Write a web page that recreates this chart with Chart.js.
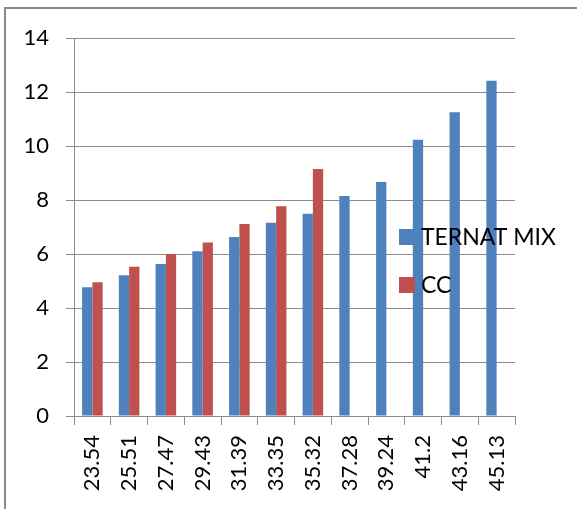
<!DOCTYPE html>
<html>
<head>
<meta charset="utf-8">
<script src="https://cdn.jsdelivr.net/npm/chart.js@4/dist/chart.umd.min.js"></script>
<style>
  html, body { margin: 0; padding: 0; background: #ffffff; }
  #wrap { width: 577px; height: 509px; position: relative; }
</style>
</head>
<body>
<div id="wrap"><canvas id="chart" width="577" height="509"></canvas></div>
<script>
// Category labels along the x axis
const categories = ['23.54', '25.51', '27.47', '29.43', '31.39', '33.35', '35.32', '37.28', '39.24', '41.2', '43.16', '45.13'];

// Series values
const ternatMix = [4.77, 5.21, 5.63, 6.10, 6.63, 7.16, 7.49, 8.15, 8.67, 10.23, 11.25, 12.42];
const cc = [4.95, 5.53, 6.00, 6.43, 7.11, 7.77, 9.15, null, null, null, null, null];

// Series names
const seriesNames = ['TERNAT MIX', 'CC'];

const BLUE = '#4F81BD';
const RED = '#C0504D';
const GRID = '#8c8c8c';
const FONT = 'Lato, "Open Sans", sans-serif';

// Thin frame along the top and left edges of the canvas
const framePlugin = {
  id: 'frame',
  beforeDraw(chart) {
    const ctx = chart.ctx;
    ctx.save();
    ctx.fillStyle = '#ffffff';
    ctx.fillRect(0, 0, chart.width, chart.height);
    ctx.strokeStyle = '#8a8a8a';
    ctx.lineWidth = 2;
    ctx.beginPath();
    ctx.moveTo(5, chart.height + 2);
    ctx.lineTo(5, 8);
    ctx.lineTo(chart.width + 2, 8);
    ctx.stroke();
    ctx.restore();
  }
};

// Legend drawn on top of the plot, right side, vertically centred
const overlayLegend = {
  id: 'overlayLegend',
  afterDraw(chart) {
    const ctx = chart.ctx;
    const x = 399, y0 = 229, gap = 48, box = 16;
    ctx.save();
    ctx.font = '23px ' + FONT;
    ctx.textBaseline = 'middle';
    ctx.textAlign = 'left';
    chart.data.datasets.forEach((ds, i) => {
      const y = y0 + i * gap;
      ctx.fillStyle = ds.backgroundColor;
      ctx.fillRect(x, y, box, box);
      ctx.fillStyle = '#000000';
      ctx.fillText(ds.label, x + box + 6, y + box / 2 + 1);
    });
    ctx.restore();
  }
};

new Chart(document.getElementById('chart'), {
  type: 'bar',
  data: {
    labels: categories,
    datasets: [
      { label: seriesNames[0], data: ternatMix, backgroundColor: BLUE, borderWidth: 0 },
      { label: seriesNames[1], data: cc, backgroundColor: RED, borderWidth: 0 }
    ]
  },
  options: {
    responsive: false,
    animation: false,
    devicePixelRatio: 1,
    layout: { padding: { left: 0, right: 62, top: 38, bottom: 0 } },
    datasets: { bar: { categoryPercentage: 0.56, barPercentage: 1.0 } },
    plugins: {
      legend: { display: false },
      tooltip: { enabled: false },
      title: { display: false }
    },
    scales: {
      x: {
        grid: {
          display: true,
          offset: true,
          drawOnChartArea: false,
          drawTicks: true,
          tickLength: 9,
          color: GRID,
          lineWidth: 1
        },
        border: { display: true, color: GRID, width: 1 },
        ticks: {
          color: '#000000',
          font: { family: FONT, size: 22 },
          minRotation: 90,
          maxRotation: 90,
          padding: 10,
          autoSkip: false
        },
        afterFit(scale) { scale.height = 93; }
      },
      y: {
        min: 0,
        max: 14,
        grid: {
          display: true,
          drawOnChartArea: true,
          drawTicks: true,
          tickLength: 8,
          color: GRID,
          lineWidth: 1
        },
        border: { display: true, color: GRID, width: 1 },
        ticks: {
          stepSize: 2,
          color: '#000000',
          font: { family: FONT, size: 22 },
          padding: 17
        },
        afterFit(scale) { scale.width = 74; }
      }
    }
  },
  plugins: [framePlugin, overlayLegend]
});
</script>
</body>
</html>
